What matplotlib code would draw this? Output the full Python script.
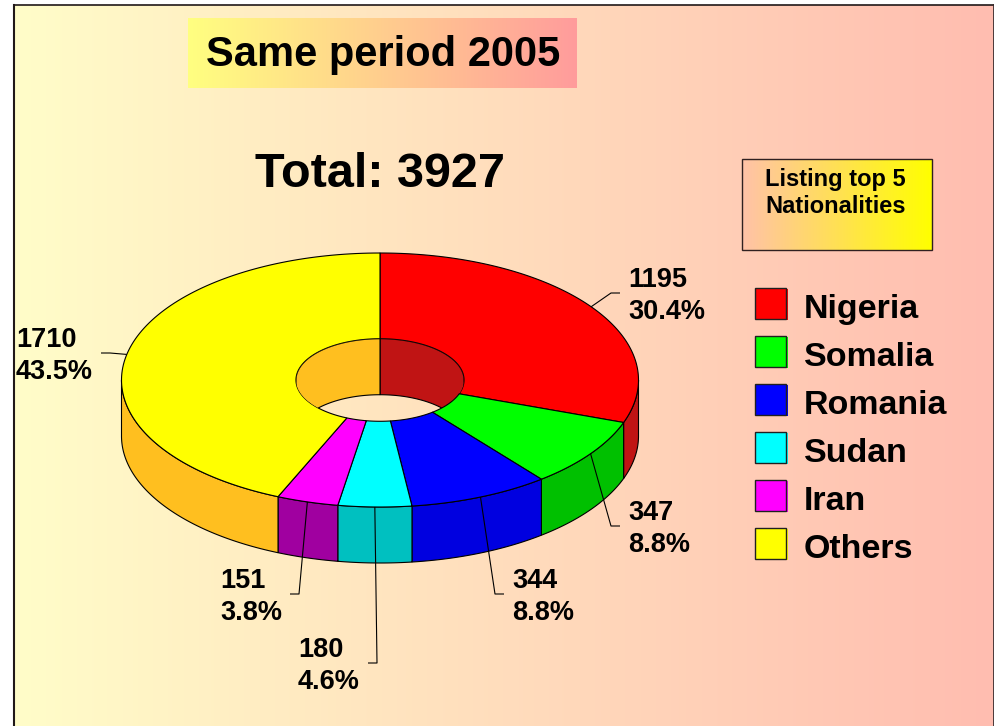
import numpy as np
import matplotlib
matplotlib.use("Agg")
import matplotlib.pyplot as plt
from matplotlib.patches import Polygon, Rectangle, Ellipse
from matplotlib.colors import to_rgb

# ---- data ----
categories = ['Nigeria', 'Somalia', 'Romania', 'Sudan', 'Iran', 'Others']
values = [1195, 347, 344, 180, 151, 1710]
title_text = 'Same period 2005'
note_lines = ['Listing top 5', 'Nationalities']

# ---- styles ----
top_colors = ['#FF0000', '#00FF00', '#0000FF', '#00FFFF', '#FF00FF', '#FFFF00']
side_colors = ['#C01414', '#00C000', '#0000E0', '#00C0C0', '#A000A0', '#FFBF1F']
FONT = 'Liberation Sans'

W, H = 995, 726
fig = plt.figure(figsize=(W / 100, H / 100), dpi=100, facecolor='white')
ax = fig.add_axes([0, 0, 1, 1])
ax.set_axis_off()


def hgrad(x0, x1, y0, y1, c0, c1, z):
    c0, c1 = np.array(to_rgb(c0)), np.array(to_rgb(c1))
    t = np.linspace(0, 1, 256)[None, :, None]
    img = c0 + (c1 - c0) * t
    ax.imshow(img, extent=(x0, x1, y1, y0), aspect='auto',
              interpolation='bilinear', zorder=z)


# background + frame
hgrad(14, 993, 5, H, '#FFFDC9', '#FFBDB0', 0)
ax.plot([13.5, 13.5], [5, H], color='#201818', lw=1.5, zorder=1)
ax.plot([13.5, 994], [5, 5], color='#201818', lw=1.2, zorder=1)
ax.plot([994, 994], [5, H], color='#3a2626', lw=2.0, zorder=1)

# title box
hgrad(188, 577, 18, 88, '#FFFF80', '#FF9C9C', 1)
ax.text(383, 66, title_text, ha='center', va='baseline', fontsize=30,
        fontweight='bold', family=FONT, zorder=5)

# total
total = sum(values)
ax.text(380, 187, f'Total: {total}', ha='center', va='baseline', fontsize=35,
        fontweight='bold', family=FONT, zorder=5)

# note box
hgrad(742, 932, 159, 250, '#FFC2A8', '#FFFF00', 1)
ax.add_patch(Rectangle((742, 159), 190, 91, fill=False, ec='#302020', lw=1.0, zorder=2))
for i, line in enumerate(note_lines):
    ax.text(765, 186 + i * 27, line, ha='left', va='baseline', fontsize=17,
            fontweight='bold', family=FONT, zorder=5)

# ---- 3D doughnut ----
cx, cy, rx, ry, depth, rin = 380, 380, 258.5, 127, 56, 0.325


def arc(a, b, rf, dz, n=120):
    th = np.radians(np.linspace(a, b, n))
    return np.column_stack([cx + rx * rf * np.cos(th), cy - ry * rf * np.sin(th) + dz])


cum = np.concatenate([[0], np.cumsum(values)])
t_start = 90 - 360 * cum[:-1] / total
t_end = 90 - 360 * cum[1:] / total

lw = 0.8
hole = Ellipse((cx, cy), 2 * rx * rin, 2 * ry * rin, transform=ax.transData)
for i in range(len(values)):
    t1, t2 = t_start[i], t_end[i]
    # outer front wall
    a, b = min(t1, 0), max(t2, -180)
    if a > b:
        poly = np.vstack([arc(a, b, 1, 0), arc(b, a, 1, depth)])
        ax.add_patch(Polygon(poly, closed=True, fc=side_colors[i], ec='black', lw=lw, zorder=2))
    # top face
    poly = np.vstack([arc(t1, t2, 1, 0), arc(t2, t1, rin, 0)])
    ax.add_patch(Polygon(poly, closed=True, fc=top_colors[i], ec='black', lw=lw, zorder=3))
    # inner back wall (seen through the hole)
    for lo, hi in [(0, 180), (-360, -180)]:
        a, b = min(t1, hi), max(t2, lo)
        if a > b:
            poly = np.vstack([arc(a, b, rin, 0), arc(b, a, rin, depth)])
            p = Polygon(poly, closed=True, fc=side_colors[i], ec='black', lw=lw, zorder=3)
            ax.add_patch(p)
            p.set_clip_path(hole)

# ---- data labels with leader lines ----
# (edge x of label block, leader y, side of pie)
label_layout = [(628, 293, 'R'), (628, 526, 'R'), (512, 594, 'R'),
                (360, 663, 'L'), (282, 594, 'L'), (93, 353, 'L')]
for i, v in enumerate(values):
    mid = (t_start[i] + t_end[i]) / 2
    ax_, ay_ = arc(mid, mid, 1, 0, 1)[0]
    ex, ly, side = label_layout[i]
    s = -1 if side == 'R' else 1
    xs = [ax_, ex + s * 17, ex + s * 8]
    ys = [ay_, ly, ly]
    ax.plot(xs, ys, color='black', lw=lw, zorder=4, solid_capstyle='butt')
    txt = f'{v}\n{v / total * 100:.1f}%'
    ax.text(ex, ly + 3, txt, ha='left' if side == 'R' else 'right', va='center',
            multialignment='left', fontsize=19.5, fontweight='bold', family=FONT,
            linespacing=1.3, zorder=5)

# ---- legend ----
for i, name in enumerate(categories):
    yc = 303 + i * 48
    ax.add_patch(Rectangle((757, yc - 14.5), 31, 31, fc=top_colors[i], ec='none', zorder=3))
    ax.add_patch(Rectangle((755, yc - 15.5), 31, 31, fc=top_colors[i], ec='#202020', lw=1.0, zorder=4))
    ax.text(804, yc + 15, name, ha='left', va='baseline', fontsize=24.5,
            fontweight='bold', family=FONT, zorder=5)

ax.set_xlim(0, W)
ax.set_ylim(H, 0)
fig.savefig('out.png', dpi=100, facecolor='white')
